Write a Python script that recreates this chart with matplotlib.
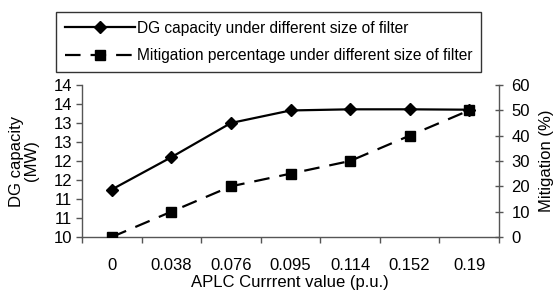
import matplotlib
matplotlib.use("Agg")
import matplotlib.pyplot as plt
import numpy as np

categories = ["0", "0.038", "0.076", "0.095", "0.114", "0.152", "0.19"]
dg_capacity = [11.25, 12.1, 13.0, 13.33, 13.36, 13.36, 13.35]
mitigation = [0, 10, 20, 25, 30, 40, 50]
left_ticks = [10, 10.5, 11, 11.5, 12, 12.5, 13, 13.5, 14]
left_tick_labels = ["10", "11", "11", "12", "12", "13", "13", "14", "14"]
right_ticks = [0, 10, 20, 30, 40, 50, 60]

plt.rcParams['font.family'] = ['Liberation Sans', 'DejaVu Sans']
fs = 12
lfs = 11.2
axc = '#555555'

fig = plt.figure(figsize=(5.54, 2.96), dpi=100)
ax = fig.add_axes([82/554, 1-237/296, 417/554, 152/296])
ax2 = ax.twinx()

x = np.arange(len(categories))
l1, = ax.plot(x, dg_capacity, color='black', lw=1.6, marker='D', ms=6,
              label='DG capacity under different size of filter')
l2, = ax2.plot(x, mitigation, color='black', lw=1.6, marker='s', ms=7,
               dashes=(7, 4.5), label='Mitigation percentage under different size of filter')

ax.set_xlim(-0.5, len(categories) - 0.5)
ax.set_ylim(10, 14)
ax2.set_ylim(0, 60)
ax.set_yticks(left_ticks)
ax.set_yticklabels(left_tick_labels, fontsize=fs)
ax2.set_yticks(right_ticks)
ax2.set_yticklabels([str(v) for v in right_ticks], fontsize=fs)
ax.set_xticks(x)
ax.set_xticklabels(categories, fontsize=fs)
ax.set_xticks(np.arange(-0.5, len(categories)), minor=True)
ax.tick_params(axis='x', which='major', length=0, pad=15)
ax.tick_params(axis='x', which='minor', length=4.5, direction='out', color=axc, width=1)
ax.tick_params(axis='y', length=4, direction='out', color=axc, width=1, pad=3)
ax2.tick_params(axis='y', length=6, direction='inout', color=axc, width=1, pad=6)

for a in (ax, ax2):
    a.spines['top'].set_visible(False)
    for s in ('left', 'right', 'bottom'):
        a.spines[s].set_color(axc)
        a.spines[s].set_linewidth(1)
ax.spines['right'].set_visible(False)
ax2.spines['left'].set_visible(False)
ax2.spines['bottom'].set_visible(False)

fig.text(290/554, 1-283/296, 'APLC Currrent value (p.u.)', fontsize=fs,
         ha='center', va='center')
fig.text(24/554, 1-161/296, 'DG capacity\n(MW)', fontsize=fs, rotation=90,
         ha='center', va='center', linespacing=1.05, multialignment='center')
fig.text(547/554, 1-161/296, 'Mitigation (%)', fontsize=fs, rotation=90,
         ha='center', va='center')

leg = fig.legend(handles=[l1, l2], loc='upper left',
                 bbox_to_anchor=(56/554, 1-12/296), fontsize=lfs,
                 frameon=True, fancybox=False, edgecolor='black',
                 handlelength=4.5, borderpad=0.55, labelspacing=0.8,
                 handletextpad=0.15, borderaxespad=0)
leg.get_frame().set_linewidth(1)

fig.savefig('out.png', dpi=100)
